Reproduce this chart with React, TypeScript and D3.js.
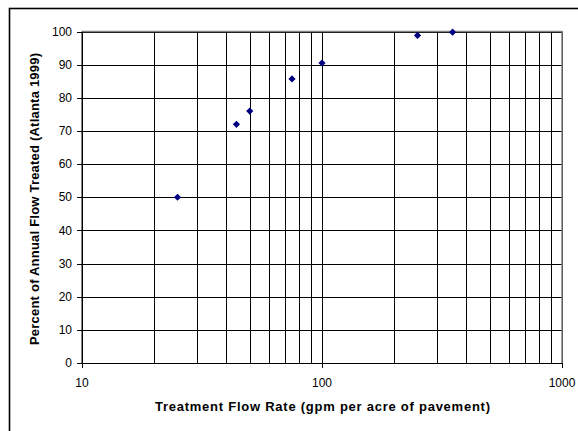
import React from "react";
import * as d3 from "d3";

const flowRates = [25, 44, 50, 75, 100, 250, 350];
const percentTreated = [50, 72, 76, 85.7, 90.5, 98.8, 99.8];
const yTicks = [0, 10, 20, 30, 40, 50, 60, 70, 80, 90, 100];
const xMajorTicks = [10, 100, 1000];
const xTitle = "Treatment Flow Rate (gpm per acre of pavement)";
const yTitle = "Percent of Annual Flow Treated (Atlanta 1999)";

export default function App() {
  const W = 578, H = 431;
  const left = 82, right = 562, top = 31.5, bottom = 363;
  const x = d3.scaleLog().domain([10, 1000]).range([left, right]);
  const y = d3.scaleLinear().domain([0, 100]).range([bottom, top]);
  const minor: number[] = [];
  for (const dec of [10, 100]) for (let k = 1; k <= 10; k++) minor.push(dec * k);
  const uniq = Array.from(new Set(minor));
  const font = "Arial, 'Liberation Sans', sans-serif";
  const diamond = d3.symbol().type(d3.symbolSquare).size(26)();

  return (
    <svg width={W} height={H} style={{ position: "absolute", left: 0, top: 0, background: "#fff" }}>
      <rect x={9.5} y={8.5} width={700} height={600} fill="none" stroke="#000" strokeWidth={1.6} />
      {yTicks.map((t) => (
        <line key={"h" + t} x1={left} x2={right} y1={Math.round(y(t)) + 0.5} y2={Math.round(y(t)) + 0.5} stroke="#000" strokeWidth={1} />
      ))}
      {uniq.map((t) => (
        <line key={"v" + t} x1={Math.round(x(t)) + 0.5} x2={Math.round(x(t)) + 0.5} y1={top} y2={bottom} stroke="#000" strokeWidth={1} />
      ))}
      <line x1={left} x2={right} y1={top} y2={top} stroke="#808080" strokeWidth={1.5} />
      <line x1={right} x2={right} y1={top} y2={bottom} stroke="#808080" strokeWidth={1.5} />
      <line x1={left} x2={left} y1={top} y2={bottom + 0.5} stroke="#000" strokeWidth={1} />
      <line x1={left} x2={right} y1={bottom + 0.5} y2={bottom + 0.5} stroke="#000" strokeWidth={1} />
      {yTicks.map((t) => (
        <g key={"yt" + t}>
          <line x1={left - 5} x2={left} y1={Math.round(y(t)) + 0.5} y2={Math.round(y(t)) + 0.5} stroke="#000" />
          <text x={72} y={y(t)} dy="0.35em" textAnchor="end" fontFamily={font} fontSize={12}>{t}</text>
        </g>
      ))}
      {xMajorTicks.map((t) => (
        <g key={"xt" + t}>
          <line x1={Math.round(x(t)) + 0.5} x2={Math.round(x(t)) + 0.5} y1={bottom} y2={bottom + 5} stroke="#000" />
          <text x={x(t)} y={383} dy="0.35em" textAnchor="middle" fontFamily={font} fontSize={12}>{t}</text>
        </g>
      ))}
      {flowRates.map((f, i) => (
        <path key={"p" + i} d={diamond as string} transform={`translate(${x(f)},${y(percentTreated[i])}) rotate(45)`} fill="#000080" />
      ))}
      <text x={322.5} y={411} textAnchor="middle" fontFamily={font} fontSize={13} fontWeight="bold" textLength={335} lengthAdjust="spacing">{xTitle}</text>
      <text transform={`translate(39,199) rotate(-90)`} textAnchor="middle" fontFamily={font} fontSize={13} fontWeight="bold" textLength={292} lengthAdjust="spacing">{yTitle}</text>
    </svg>
  );
}
